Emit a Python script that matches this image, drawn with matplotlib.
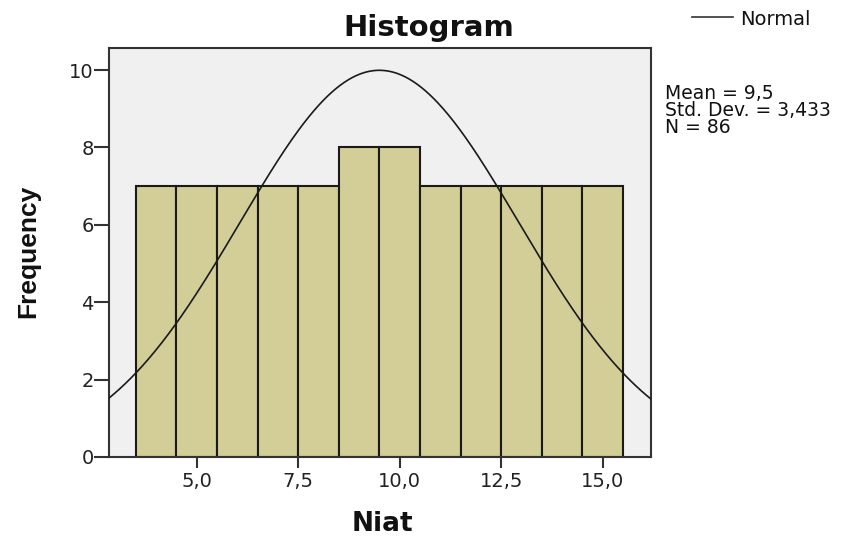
import numpy as np
import matplotlib
matplotlib.use("Agg")
import matplotlib.pyplot as plt
from matplotlib.lines import Line2D

plt.rcParams['font.family'] = ['DejaVu Sans']

bin_centers = [4, 5, 6, 7, 8, 9, 10, 11, 12, 13, 14, 15]
counts = [7, 7, 7, 7, 7, 8, 8, 7, 7, 7, 7, 7]
mean = 9.5
std = 3.433
n = 86
xticks = [5.0, 7.5, 10.0, 12.5, 15.0]
xticklabels = ["5,0", "7,5", "10,0", "12,5", "15,0"]
yticks = [0, 2, 4, 6, 8, 10]
stats_lines = ["Mean = 9,5", "Std. Dev. = 3,433", "N = 86"]

W, H = 854, 538
fig = plt.figure(figsize=(W / 100, H / 100), dpi=100)
ax = fig.add_axes([109 / W, 1 - 457 / H, (651 - 109) / W, (457 - 48) / H])
ax.set_facecolor('#F0F0F0')

ax.bar(bin_centers, counts, width=1.0, color='#D3CE97', edgecolor='#1a1a1a', linewidth=1.5, zorder=2)

xs = np.linspace(2.84, 16.19, 400)
ys = n * 1.0 / (std * np.sqrt(2 * np.pi)) * np.exp(-0.5 * ((xs - mean) / std) ** 2)
ax.plot(xs, ys, color='#1a1a1a', linewidth=1.2, zorder=3)

ax.set_xlim(2.84, 16.19)
ax.set_ylim(0, 10.57)
ax.set_xticks(xticks)
ax.set_xticklabels(xticklabels)
ax.set_yticks(yticks)
ax.tick_params(axis='both', direction='out', width=1.5, labelsize=14, color='#333333', labelcolor='#222222')
ax.tick_params(axis='y', length=10.5, pad=0.5)
ax.tick_params(axis='x', length=8, pad=2.5)
for s in ax.spines.values():
    s.set_linewidth(1.5)
    s.set_color('#333333')

def fx(px):
    return px / W

def fy(py):
    return 1 - py / H

fig.text(fx(428.5), fy(36), "Histogram", fontsize=21, fontweight='bold', ha='center', va='baseline', color='#111111')
fig.text(fx(382), fy(531), "Niat", fontsize=19, fontweight='bold', ha='center', va='baseline', color='#111111')
fig.text(fx(28), fy(251), "Frequency", fontsize=19, fontweight='bold', ha='center', va='center',
         rotation=90, family=['Liberation Sans', 'DejaVu Sans'], color='#111111')

fig.text(fx(665), fy(84), "\n".join(stats_lines), fontsize=13.5, ha='left', va='top',
         linespacing=0.88, color='#111111')

fig.add_artist(Line2D([fx(692), fx(733)], [fy(17), fy(17)], color='#333333', linewidth=1.2))
fig.text(fx(740), fy(25), "Normal", fontsize=14, ha='left', va='baseline', color='#111111')

fig.savefig("out.png", dpi=100)
